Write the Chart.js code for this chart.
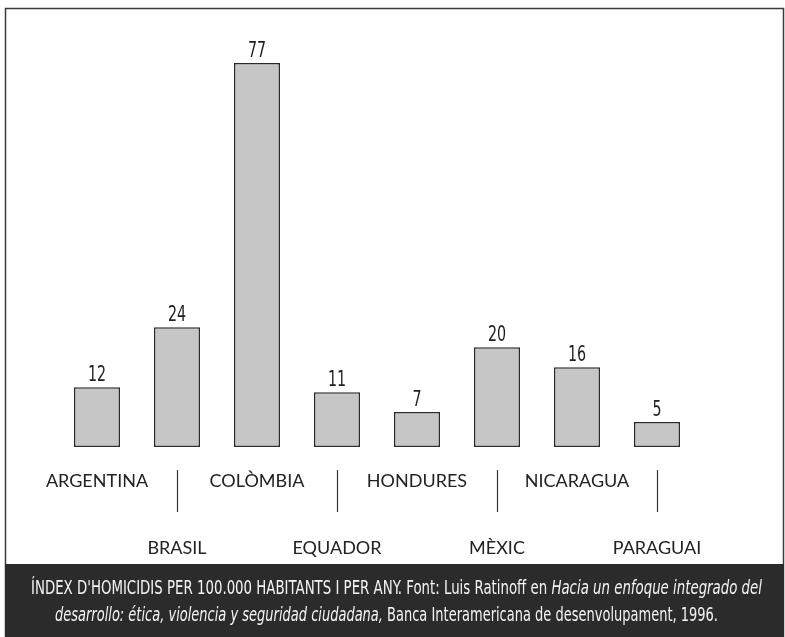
<!DOCTYPE html>
<html>
<head>
<meta charset="utf-8">
<script src="https://cdn.jsdelivr.net/npm/chart.js@4/dist/chart.umd.min.js"></script>
<style>
  html, body { margin: 0; padding: 0; background: #fff; }
</style>
</head>
<body>
<canvas id="chart" width="785" height="637"></canvas>
<script>
// data
const countries = ['ARGENTINA', 'BRASIL', 'COLÒMBIA', 'EQUADOR', 'HONDURES', 'MÈXIC', 'NICARAGUA', 'PARAGUAI'];
const homicideRate = [12, 24, 77, 11, 7, 20, 16, 5];
const yMax = 80;

const captionLine1 = [
    { text: "ÍNDEX D'HOMICIDIS PER 100.000 HABITANTS I PER ANY. Font: Luis Ratinoff en ", italic: false },
    { text: 'Hacia un enfoque integrado del', italic: true }
];
const captionLine2 = [
    { text: 'desarrollo: ética, violencia y seguridad ciudadana,', italic: true },
    { text: ' Banca Interamericana de desenvolupament, 1996.', italic: false }
];

const narrow = "'DejaVu Sans Condensed', 'Liberation Sans Narrow', sans-serif";

// draws mixed roman / italic runs squeezed to a given width
function drawCaptionLine(ctx, parts, x0, x1, y) {
    const size = 19;
    let total = 0;
    parts.forEach(p => {
        ctx.font = (p.italic ? 'italic ' : '') + size + 'px ' + narrow;
        p.w = ctx.measureText(p.text).width;
        total += p.w;
    });
    const k = (x1 - x0) / total;
    ctx.save();
    ctx.translate(x0, y);
    ctx.scale(k, 1);
    let x = 0;
    parts.forEach(p => {
        ctx.font = (p.italic ? 'italic ' : '') + size + 'px ' + narrow;
        ctx.fillText(p.text, x, 0);
        x += p.w;
    });
    ctx.restore();
}

const bookPage = {
    id: 'bookPage',
    beforeDraw(chart) {
        const ctx = chart.ctx;
        ctx.save();
        ctx.fillStyle = '#ffffff';
        ctx.fillRect(0, 0, chart.width, chart.height);
        ctx.strokeStyle = '#3a3a3a';
        ctx.lineWidth = 1.5;
        ctx.strokeRect(5.5, 8.5, 778, 640);
        ctx.restore();
    },
    afterDatasetsDraw(chart) {
        const ctx = chart.ctx;
        const meta = chart.getDatasetMeta(0);
        const xs = chart.scales.x;
        const bottom = chart.chartArea.bottom;
        ctx.save();
        // value labels above the bars (tall, narrow digits)
        ctx.fillStyle = '#1e1e1e';
        ctx.font = '22px ' + narrow;
        ctx.textAlign = 'center';
        ctx.textBaseline = 'alphabetic';
        meta.data.forEach((bar, i) => {
            ctx.save();
            ctx.translate(bar.x, bar.y - 6);
            ctx.scale(0.72, 1);
            ctx.fillText(String(homicideRate[i]), 0, 0);
            ctx.restore();
        });
        // small leader lines for the lower row of labels
        ctx.strokeStyle = '#333';
        ctx.lineWidth = 1.2;
        countries.forEach((c, i) => {
            if (i % 2 === 1) {
                const x = Math.round(xs.getPixelForValue(i)) + 0.5;
                ctx.beginPath();
                ctx.moveTo(x, bottom + 23);
                ctx.lineTo(x, bottom + 65);
                ctx.stroke();
            }
        });
        ctx.restore();
    },
    afterDraw(chart) {
        const ctx = chart.ctx;
        ctx.save();
        ctx.fillStyle = '#2b2b2b';
        ctx.fillRect(5, 564, 779, 73);
        ctx.fillStyle = '#f4f4f4';
        ctx.textBaseline = 'alphabetic';
        ctx.textAlign = 'left';
        drawCaptionLine(ctx, captionLine1, 31, 762, 594);
        drawCaptionLine(ctx, captionLine2, 55, 718, 621);
        ctx.restore();
    }
};

new Chart(document.getElementById('chart'), {
    type: 'bar',
    data: {
        labels: countries,
        datasets: [{
            data: homicideRate,
            backgroundColor: '#c6c6c6',
            borderColor: '#2a2a2a',
            borderWidth: 1.5,
            borderSkipped: false,
            barPercentage: 0.575,
            categoryPercentage: 1
        }]
    },
    options: {
        responsive: false,
        animation: false,
        layout: {
            padding: { left: 57, right: 88, top: 48, bottom: 74 }
        },
        plugins: {
            legend: { display: false },
            tooltip: { enabled: false }
        },
        scales: {
            x: {
                grid: { display: false },
                border: { display: false },
                ticks: {
                    autoSkip: false,
                    maxRotation: 0,
                    minRotation: 0,
                    padding: 9,
                    color: '#222',
                    font: { family: 'Lato', size: 18, lineHeight: '33.5px' },
                    callback: function (value, index) {
                        return index % 2 ? ['', '', countries[index]] : countries[index];
                    }
                },
                afterFit: function (scale) {
                    scale.height = 116;
                }
            },
            y: {
                display: false,
                min: 0,
                max: yMax
            }
        }
    },
    plugins: [bookPage]
});
</script>
</body>
</html>
